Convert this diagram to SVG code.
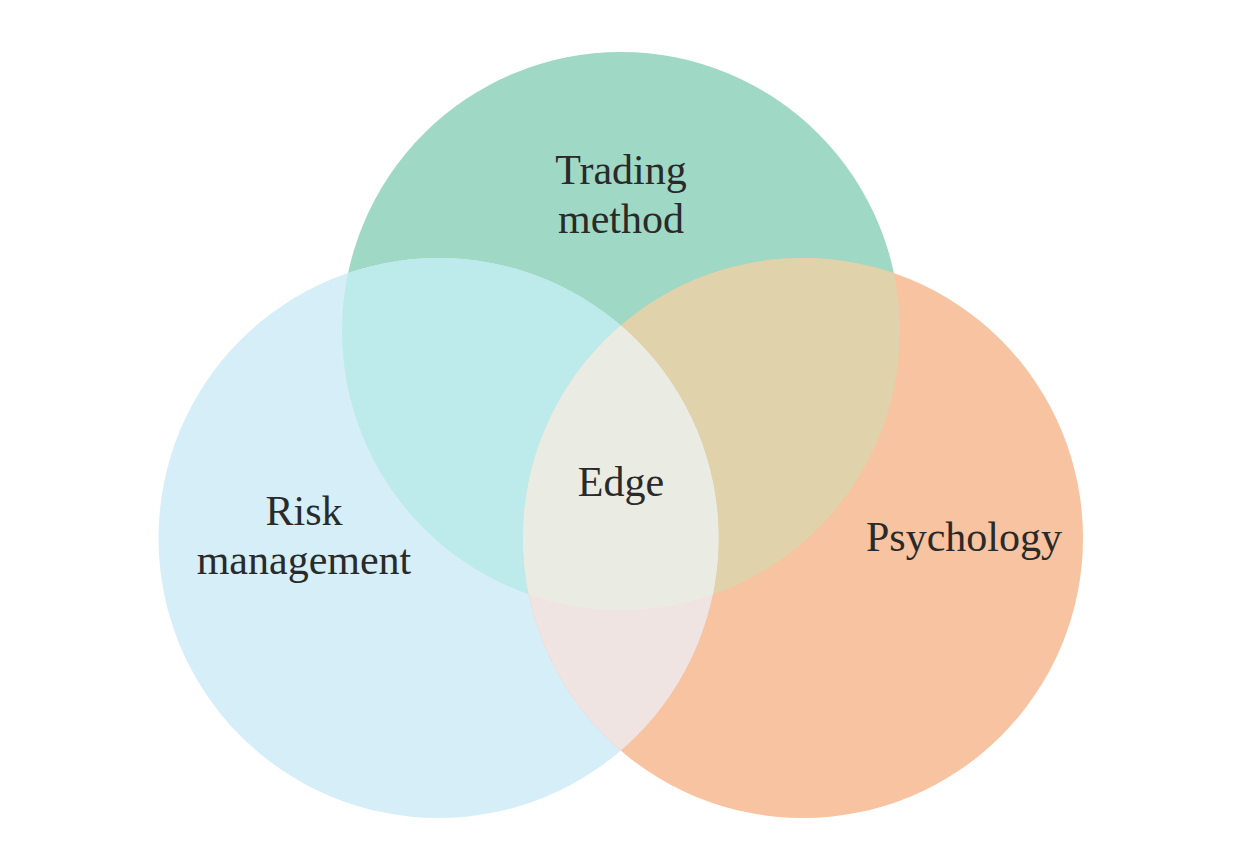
<svg xmlns="http://www.w3.org/2000/svg" width="1238" height="856" viewBox="0 0 1238 856">
<style>
.lbl{font-family:"Liberation Serif","Times New Roman",serif;font-size:42px;fill:#2a2a2a;text-anchor:middle}
</style>
<defs>
<clipPath id="cTop"><circle cx="621" cy="331" r="279"/></clipPath>
<clipPath id="cLeft"><circle cx="438.5" cy="538" r="280"/></clipPath>
<clipPath id="cRight"><circle cx="803" cy="538" r="280"/></clipPath>
</defs>
<rect width="1238" height="856" fill="#ffffff"/>
<g id="node-trading-method-circle"><circle cx="621" cy="331" r="279" fill="#9fd8c4"/></g>
<g id="node-risk-management-circle"><circle cx="438.5" cy="538" r="280" fill="#d6eef8"/></g>
<g id="node-psychology-circle"><circle cx="803" cy="538" r="280" fill="#f8c3a0"/></g>
<g id="overlaps">
<circle cx="438.5" cy="538" r="280" fill="#bdeaea" clip-path="url(#cTop)"/>
<circle cx="803" cy="538" r="280" fill="#e0d2aa" clip-path="url(#cTop)"/>
<circle cx="803" cy="538" r="280" fill="#f0e4e2" clip-path="url(#cLeft)"/>
<g clip-path="url(#cTop)"><circle cx="803" cy="538" r="280" fill="#eaece4" clip-path="url(#cLeft)"/></g>
</g>
<g id="node-trading-method"><text class="lbl" x="621" y="184">Trading</text><text class="lbl" x="621" y="233">method</text></g>
<g id="node-risk-management"><text class="lbl" x="304" y="525">Risk</text><text class="lbl" x="304" y="574">management</text></g>
<g id="node-psychology"><text class="lbl" x="964" y="551">Psychology</text></g>
<g id="node-edge"><text class="lbl" x="621" y="496">Edge</text></g>
<g id="connectors"></g>
</svg>
